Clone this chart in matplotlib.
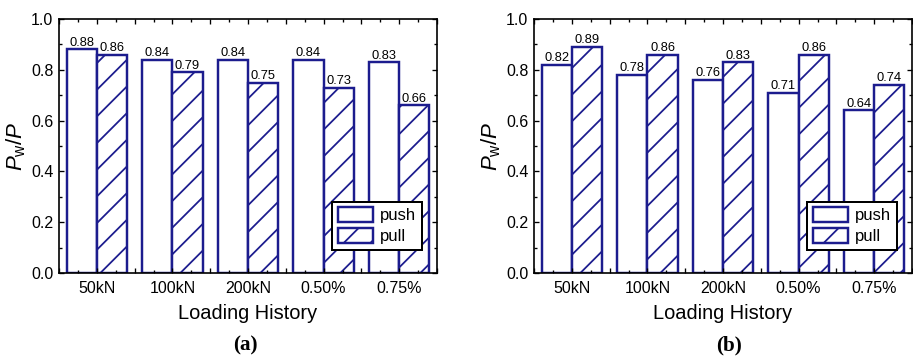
import matplotlib
matplotlib.use("Agg")
import matplotlib.pyplot as plt
from matplotlib.ticker import MultipleLocator, FixedLocator, FuncFormatter
import numpy as np

plt.rcParams['font.family'] = ['Liberation Sans', 'DejaVu Sans']
plt.rcParams['mathtext.fontset'] = 'custom'
plt.rcParams['mathtext.rm'] = 'Liberation Sans'
plt.rcParams['mathtext.it'] = 'Liberation Sans:italic'
plt.rcParams['hatch.linewidth'] = 0.8

# loading steps and P_w/P ratios for the two specimens
steps = ["50kN", "100kN", "200kN", "0.50%", "0.75%"]
push_a = [0.88, 0.84, 0.84, 0.84, 0.83]
pull_a = [0.86, 0.79, 0.75, 0.73, 0.66]
push_b = [0.82, 0.78, 0.76, 0.71, 0.64]
pull_b = [0.89, 0.86, 0.83, 0.86, 0.74]

navy = '#1c1c8e'
plt.rcParams['hatch.color'] = navy

fig = plt.figure(figsize=(913 / 160, 360 / 160), dpi=160)
ax_a = fig.add_axes([59 / 913, 87 / 360, 378 / 913, 254 / 360])
ax_b = fig.add_axes([534 / 913, 87 / 360, 378 / 913, 254 / 360])


def draw_panel(ax, push, pull, tag, tag_x):
    x = np.arange(len(steps))
    w = 0.4
    b1 = ax.bar(x - w / 2, push, w, facecolor='white', edgecolor=navy,
                linewidth=1.1, label='push')
    b2 = ax.bar(x + w / 2, pull, w, facecolor='white', edgecolor=navy,
                linewidth=1.1, hatch='//', label='pull')
    ax.bar_label(b1, fmt='%.2f', padding=0.3, fontsize=5.8)
    ax.bar_label(b2, fmt='%.2f', padding=0.3, fontsize=5.8)

    ax.set_xlim(-0.5, len(steps) - 0.5)
    ax.set_ylim(0, 1.0)
    ax.yaxis.set_major_locator(MultipleLocator(0.2))
    ax.yaxis.set_minor_locator(MultipleLocator(0.1))
    ax.yaxis.set_major_formatter(FuncFormatter(lambda v, p: '%.1f' % v))
    ax.xaxis.set_major_locator(FixedLocator(np.arange(-0.5, len(steps), 0.5)))
    ax.xaxis.set_minor_locator(MultipleLocator(0.25))
    ax.xaxis.set_major_formatter(FuncFormatter(
        lambda v, p: steps[int(round(v))] if abs(v - round(v)) < 1e-6
        and 0 <= round(v) < len(steps) else ''))

    ax.tick_params(which='both', direction='in', top=True, right=True,
                   width=0.6, labelsize=7.2)
    ax.tick_params(which='major', length=2.4)
    ax.tick_params(which='minor', length=1.4)
    ax.tick_params(axis='x', pad=3.5)
    ax.tick_params(axis='y', pad=2.5)
    for s in ax.spines.values():
        s.set_linewidth(0.75)

    ax.set_xlabel('Loading History', fontsize=9, labelpad=3.5)
    ax.set_ylabel(r'$P_{\mathrm{w}}/P$', fontsize=10, labelpad=1.5)

    leg = ax.legend(loc='lower right', bbox_to_anchor=(0.96, 0.09),
                    borderaxespad=0, fontsize=7.5, fancybox=False,
                    edgecolor='black', framealpha=1, handlelength=2.1,
                    handleheight=0.95, handletextpad=0.4, labelspacing=0.3,
                    borderpad=0.35)
    leg.get_frame().set_linewidth(0.9)

    fig.text(tag_x / 913, 1 - 345 / 360, tag, ha='center', va='center',
             fontsize=9.5, fontweight='bold', family='Liberation Serif')


draw_panel(ax_a, push_a, pull_a, '(a)', 245)
draw_panel(ax_b, push_b, pull_b, '(b)', 729)

fig.savefig('out.png', dpi=160)
